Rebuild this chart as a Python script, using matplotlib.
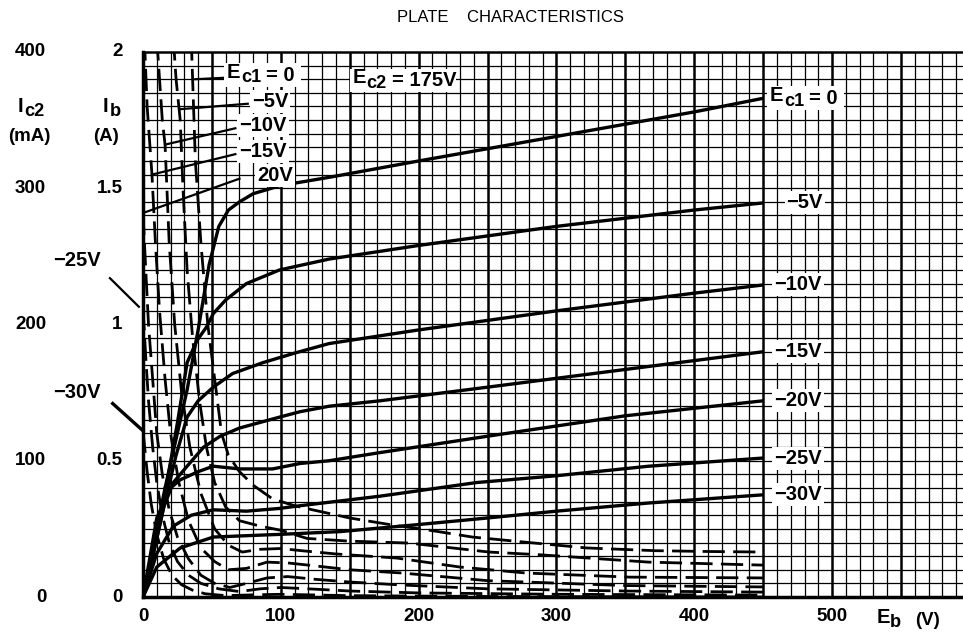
import matplotlib.pyplot as plt
from matplotlib.patches import Rectangle
import numpy as np

plt.rcParams['font.family'] = ['Liberation Sans', 'DejaVu Sans']

# plate current Ib (A) vs plate voltage Eb (V), solid curves
grid_labels = ['0', '\u22125V', '\u221210V', '\u221215V', '\u221220V', '\u221225V', '\u221230V']

eb_p0 = [0, 8, 16, 24, 32, 40, 48, 55, 62, 70, 80, 100, 135, 200, 300, 400, 450]
ib_p0 = [0, 0.2, 0.4, 0.58, 0.76, 0.98, 1.22, 1.36, 1.42, 1.45, 1.48, 1.51, 1.54, 1.60, 1.69, 1.78, 1.83]
eb_p1 = [0, 8, 16, 25, 32, 39, 46, 51, 60, 75, 99, 135, 200, 300, 400, 450]
ib_p1 = [0, 0.18, 0.38, 0.64, 0.86, 0.94, 0.99, 1.04, 1.09, 1.15, 1.20, 1.24, 1.29, 1.36, 1.42, 1.446]
eb_p2 = [0, 8, 16, 24, 32, 40, 51, 65, 87, 110, 135, 200, 300, 400, 450]
ib_p2 = [0, 0.17, 0.35, 0.52, 0.66, 0.72, 0.77, 0.82, 0.86, 0.895, 0.93, 0.98, 1.05, 1.115, 1.145]
eb_p3 = [0, 8, 15, 22, 32, 44, 56, 70, 99, 114, 135, 172, 250, 350, 450]
ib_p3 = [0, 0.17, 0.33, 0.42, 0.48, 0.55, 0.59, 0.62, 0.66, 0.68, 0.70, 0.72, 0.77, 0.835, 0.90]
eb_p4 = [0, 10, 20, 27, 40, 51, 70, 94, 114, 135, 172, 250, 350, 450]
ib_p4 = [0, 0.29, 0.40, 0.43, 0.46, 0.48, 0.47, 0.47, 0.49, 0.50, 0.53, 0.59, 0.665, 0.72]
eb_p5 = [0, 10, 22, 35, 51, 75, 99, 114, 172, 242, 300, 367, 450]
ib_p5 = [0, 0.16, 0.26, 0.30, 0.32, 0.315, 0.325, 0.335, 0.37, 0.42, 0.445, 0.48, 0.51]
eb_p6 = [0, 10, 27, 51, 75, 100, 143, 198, 250, 300, 367, 450]
ib_p6 = [0, 0.11, 0.18, 0.22, 0.225, 0.23, 0.24, 0.265, 0.29, 0.315, 0.345, 0.375]

# screen current Ic2 (mA), dashed curves
eb_s0 = [35, 36, 38, 42, 47, 52, 57, 62, 70, 80, 94, 110, 123, 150, 180, 208, 239, 280, 322, 372, 410, 450]
ic2_s0 = [410, 380, 320, 260, 200, 160, 120, 104, 92, 82, 72, 67, 64, 58, 53, 49, 44, 40, 36, 34, 33.4, 33]
eb_s1 = [22, 24, 27, 29, 32, 36, 41, 46, 52, 60, 70, 85, 100, 119, 150, 193, 251, 288, 367, 450]
ic2_s1 = [410, 380, 350, 300, 240, 190, 144, 110, 84, 66, 56, 52, 49, 43, 41, 39.6, 33, 31, 25.6, 23.4]
eb_s2 = [10, 12, 14, 16, 19, 23, 28, 34, 42, 52, 62, 72, 85, 100, 115, 140, 184, 230, 278, 353, 450]
ic2_s2 = [410, 380, 350, 332, 260, 200, 150, 110, 76, 50, 38, 33, 35, 35.6, 34, 31.6, 28.6, 22, 17.6, 14.6, 14]
eb_s3 = [1, 3, 6.5, 9, 12, 16, 20, 26, 33, 42, 52, 62, 75, 90, 105, 120, 150, 188, 250, 350, 450]
ic2_s3 = [410, 360, 310, 260, 210, 160, 120, 84, 56, 36, 26, 20, 21, 25.6, 25, 23.4, 20, 17.6, 12, 8.4, 7.4]
eb_s4 = [0, 2, 4, 7, 10, 14, 19, 25, 33, 42, 52, 63, 75, 90, 105, 125, 150, 188, 250, 350, 450]
ic2_s4 = [282, 240, 200, 160, 120, 90, 64, 44, 28, 16, 10, 7, 10, 14, 15, 13, 11, 8.8, 6, 4.4, 3.6]
eb_s5 = [0, 2, 4, 7, 10, 14, 19, 25, 33, 42, 55, 70, 85, 100, 120, 150, 200, 300, 450]
ic2_s5 = [212, 176, 144, 110, 84, 60, 40, 26, 16, 10, 6, 4, 6, 7, 6, 4.4, 3, 2, 1.4]
eb_s6 = [0, 3, 6, 10, 15, 21, 28, 36, 45, 60, 80, 100, 150, 250, 450]
ic2_s6 = [122, 92, 68, 46, 28, 16, 9, 5, 2.4, 1, 1.6, 2, 1, 0.4, 0]

plate = [(eb_p0, ib_p0), (eb_p1, ib_p1), (eb_p2, ib_p2), (eb_p3, ib_p3),
         (eb_p4, ib_p4), (eb_p5, ib_p5), (eb_p6, ib_p6)]
screen = [(eb_s0, ic2_s0), (eb_s1, ic2_s1), (eb_s2, ic2_s2), (eb_s3, ic2_s3),
          (eb_s4, ic2_s4), (eb_s5, ic2_s5), (eb_s6, ic2_s6)]

fig = plt.figure(figsize=(9.63, 6.36), dpi=100)
ax = fig.add_axes([0.1485, 0.0613, 0.8515, 0.857])
ax.set_xlim(0, 595)
ax.set_ylim(0, 2.0)

# graph paper
for x in np.arange(10, 600, 10):
    ax.axvline(x, color='black', lw=1.8 if x % 50 == 0 else 0.9, zorder=1)
for y in np.arange(0.05, 2.0, 0.05):
    ax.axhline(y, color='black', lw=0.9, zorder=1)
for s in ['left', 'bottom']:
    ax.spines[s].set_linewidth(2.5)
ax.spines['top'].set_linewidth(1.8)
ax.spines['right'].set_visible(False)

for eb, ib in plate:
    ax.plot(eb, ib, color='black', lw=2.4, solid_capstyle='butt', zorder=3)
for eb, ic2 in screen:
    ax.plot(eb, np.array(ic2) / 200.0, color='black', lw=2.0,
            dashes=(8, 3), zorder=3)

FS = 14.5
box = dict(facecolor='white', edgecolor='none', pad=1.5)
PT_X = (100 / 72) / (820 / 595)   # points -> volts on this axis
PT_Y = (100 / 72) / 272.5         # points -> amps


def sub_text(x, y, base, sub, tail='', size=FS, bg=True, **kw):
    # base letter, lowered subscript, then the rest, placed side by side
    w_base = {'E': 0.667, 'I': 0.278}[base] * size
    w_sub = 0.5 * size * len(sub)
    w_tail = 0.5 * size * len(tail)
    if bg:
        w = w_base + w_sub + 4 + w_tail + 5
        ax.add_patch(Rectangle((x - 2 * PT_X, y - 8.5 * PT_Y), w * PT_X,
                               17 * PT_Y, facecolor='white',
                               edgecolor='none', zorder=4.5))
    ax.annotate(base, (x, y), xytext=(0, 2), textcoords='offset points',
                ha='left', va='center', fontsize=size, fontweight='bold',
                zorder=5, **kw)
    ax.annotate(sub, (x, y), xytext=(w_base + 0.5, -2),
                textcoords='offset points', ha='left', va='center',
                fontsize=size * 0.9, fontweight='bold', zorder=5, **kw)
    if tail:
        ax.annotate(tail, (x, y), xytext=(w_base + w_sub + 4, 0),
                    textcoords='offset points', ha='left', va='center',
                    fontsize=size, fontweight='bold', zorder=5, **kw)


# ticks
ax.set_xticks([0, 100, 200, 300, 400, 500])
ax.set_xticklabels(['0', '100', '200', '300', '400', '500'],
                   fontsize=13.5, fontweight='bold')
ax.tick_params(axis='x', length=0, pad=8)
ax.set_yticks([])
ytr = ax.get_yaxis_transform()
for ib_t, ic_t, lab in zip([0, 0.5, 1.0, 1.5, 2.0], [0, 100, 200, 300, 400],
                           ['0', '0.5', '1', '1.5', '2']):
    ax.text(-0.025, ib_t, lab, transform=ytr, ha='right', va='center',
            fontsize=13.5, fontweight='bold')
    ax.text(-0.118, ib_t, str(ic_t), transform=ytr, ha='right', va='center',
            fontsize=13.5, fontweight='bold')

sub_text(-91, 1.79, 'I', 'c2', bg=False, annotation_clip=False)
ax.text(-98, 1.69, '(mA)', ha='left', va='center', fontsize=13.5,
        fontweight='bold', clip_on=False)
sub_text(-29, 1.79, 'I', 'b', bg=False, annotation_clip=False)
ax.text(-36, 1.69, '(A)', ha='left', va='center', fontsize=13.5,
        fontweight='bold', clip_on=False)
sub_text(532, -0.085, 'E', 'b', bg=False, annotation_clip=False)
ax.text(560, -0.085, '(V)', ha='left', va='center', fontsize=13.5,
        fontweight='bold', clip_on=False)

fig.text(0.412, 0.972, 'PLATE    CHARACTERISTICS', ha='left', va='center',
         fontsize=12)

# right-hand labels for plate curves
ends = [ib[-1] for eb, ib in plate]
for i, (lab, y) in enumerate(zip(grid_labels, ends)):
    if i == 0:
        sub_text(455, y, 'E', 'c1', '= 0')
    else:
        ax.text(458 if i != 1 else 467, y, lab, ha='left', va='center',
                fontsize=FS, fontweight='bold', bbox=box, zorder=5)

sub_text(152, 1.895, 'E', 'c2', '= 175V')

# labels for screen curves (top-left)
top_labels = [(None, 61, 1.915, 58, 38, 1.90),
              ('\u22125V', 79, 1.82, 76, 27, 1.79),
              ('\u221210V', 70, 1.73, 67, 16, 1.66),
              ('\u221215V', 70, 1.635, 67, 6.5, 1.55),
              ('20V', 83, 1.545, 70, 0.5, 1.41)]
for lab, tx, ty, lx, px, py in top_labels:
    if lab is None:
        sub_text(tx, ty, 'E', 'c1', '= 0')
    else:
        ax.text(tx, ty, lab, ha='left', va='center', fontsize=FS,
                fontweight='bold', bbox=box, zorder=5)
    ax.plot([lx, px], [ty - 0.01, py], color='black', lw=1.6, zorder=4)

ax.text(-65, 1.235, '\u221225V', ha='left', va='center', fontsize=FS,
        fontweight='bold', clip_on=False)
ax.plot([-24, -3], [1.17, 1.065], color='black', lw=1.6, clip_on=False)
ax.text(-65, 0.75, '\u221230V', ha='left', va='center', fontsize=FS,
        fontweight='bold', clip_on=False)
ax.plot([-22, 0], [0.71, 0.61], color='black', lw=2.4, clip_on=False)

fig.savefig('out.png', dpi=100)
